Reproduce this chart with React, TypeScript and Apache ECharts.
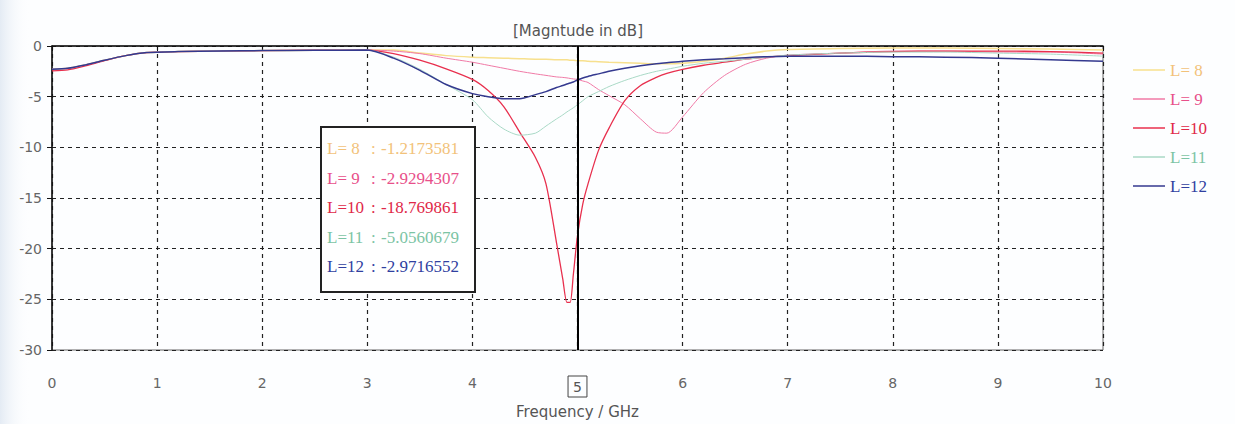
import React, { useEffect, useRef } from "react";
import * as echarts from "echarts";

const freq = [0, 0.15, 0.3, 0.5, 0.7, 0.9, 1.2, 1.6, 2.0, 2.5, 3.0, 3.25, 3.5, 3.75, 4.0, 4.15, 4.3, 4.45, 4.6, 4.7, 4.8, 4.86, 4.9, 4.93, 4.96, 5.0, 5.05, 5.1, 5.2, 5.3, 5.45, 5.6, 5.75, 5.85, 6.0, 6.2, 6.4, 6.6, 6.8, 7.0, 7.5, 8.0, 8.5, 9.0, 9.5, 10.0];

const startCommon = [-2.3, -2.2, -1.9, -1.4, -0.95, -0.65, -0.55, -0.5, -0.45, -0.42, -0.4];

const l8 = [...startCommon, -0.4, -0.7, -0.95, -1.1, -1.15, -1.2, -1.25, -1.3, -1.3, -1.35, -1.35, -1.35, -1.4, -1.4, -1.45, -1.45, -1.5, -1.55, -1.6, -1.65, -1.7, -1.75, -1.75, -1.7, -1.5, -1.2, -0.8, -0.5, -0.35, -0.25, -0.2, -0.2, -0.25, -0.3, -0.4];
const l9 = [...startCommon, -0.5, -0.75, -1.2, -1.6, -1.9, -2.2, -2.5, -2.75, -2.9, -3.05, -3.1, -3.15, -3.2, -3.25, -3.3, -3.45, -3.6, -4.3, -4.9, -5.8, -7.2, -8.5, -8.6, -7.0, -4.6, -2.9, -1.8, -1.2, -0.9, -0.7, -0.5, -0.5, -0.6, -0.6, -0.8];
const l10 = [-2.45, -2.35, -2.0, -1.45, -0.95, -0.65, -0.55, -0.5, -0.45, -0.42, -0.4, -0.75, -1.4, -2.25, -3.3, -4.4, -6.0, -8.5, -11.0, -13.6, -19.4, -23.0, -25.3, -25.3, -22.6, -18.7, -15.6, -13.6, -10.3, -8.1, -5.4, -3.9, -3.1, -2.7, -2.3, -1.9, -1.6, -1.3, -1.1, -0.95, -0.7, -0.55, -0.5, -0.5, -0.55, -0.7];
const l11 = [...startCommon, -1.1, -2.3, -3.8, -5.3, -7.0, -8.2, -8.8, -8.6, -7.9, -7.2, -6.8, -6.5, -6.3, -6.1, -5.8, -5.4, -5.0, -4.5, -4.0, -3.4, -2.9, -2.5, -2.3, -2.0, -1.7, -1.5, -1.3, -1.1, -0.9, -0.7, -0.6, -0.6, -0.7, -0.8, -1.0];
const l12 = [...startCommon, -1.2, -2.4, -3.8, -4.7, -5.0, -5.2, -5.2, -4.8, -4.5, -4.1, -3.9, -3.75, -3.65, -3.55, -3.35, -3.15, -3.0, -2.75, -2.5, -2.2, -1.95, -1.75, -1.65, -1.5, -1.35, -1.25, -1.15, -1.05, -1.0, -1.0, -1.05, -1.1, -1.2, -1.35, -1.5];

const seriesNames = ["L= 8", "L= 9", "L=10", "L=11", "L=12"];
const seriesData = [l8, l9, l10, l11, l12];
const lineColors = ["#f7e08e", "#f07aa6", "#e8304e", "#a9d9c6", "#34398f"];
const textColors = ["#f2c27a", "#e8508a", "#e02848", "#7cc4a4", "#3040a0"];
const lineWidths = [1.5, 1, 1.3, 1, 1.5];
const cursorValues = ["-1.2173581", "-2.9294307", "-18.769861", "-5.0560679", "-2.9716552"];
const cursorX = 5;
const xTicks = [0, 1, 2, 3, 4, 5, 6, 7, 8, 9, 10];

export default function App() {
  const ref = useRef<HTMLDivElement>(null);
  useEffect(() => {
    document.body.style.margin = "0";
    const chart = echarts.init(ref.current!, undefined, { renderer: "svg" });
    const axisFont = "DejaVu Sans";
    const serif = "Liberation Serif";
    const series: any[] = seriesNames.map((name, i) => ({
      name,
      type: "line",
      symbol: "none",
      smooth: 0.25,
      data: freq.map((f, k) => [f, seriesData[i][k]]),
      lineStyle: { color: lineColors[i], width: lineWidths[i] },
      itemStyle: { color: lineColors[i] },
      z: 3 + i,
    }));
    series[4].markLine = {
      silent: true,
      symbol: "none",
      label: { show: false },
      lineStyle: { color: "#000", width: 2, type: "solid" },
      data: [{ xAxis: cursorX }],
      z: 10,
    };
    const boxLeft = 321;
    const boxTop = 127;
    const rowY = [148, 178, 207, 237, 266];
    const graphics: any[] = [
      {
        type: "rect",
        shape: { x: 0, y: 0, width: 30, height: 424 },
        style: {
          fill: new echarts.graphic.LinearGradient(0, 0, 1, 0, [
            { offset: 0, color: "#e4ebf4" },
            { offset: 1, color: "rgba(253,254,255,0)" },
          ]),
        },
        z: -10,
        silent: true,
      },
      {
        type: "text",
        style: { x: 578, y: 31, text: "[Magntude in dB]", fill: "#555", font: `15px "${axisFont}"`, align: "center", verticalAlign: "middle" },
      },
      {
        type: "rect",
        z: 100,
        shape: { x: boxLeft, y: boxTop, width: 154, height: 165 },
        style: { fill: "#ffffff", stroke: "#222", lineWidth: 2 },
      },
    ];
    seriesNames.forEach((n, i) => {
      const f = `17px "${serif}"`;
      graphics.push({ type: "text", z: 101, style: { x: 327, y: rowY[i], text: n, fill: textColors[i], font: f, verticalAlign: "middle" } });
      graphics.push({ type: "text", z: 101, style: { x: 371, y: rowY[i], text: ":", fill: textColors[i], font: f, verticalAlign: "middle" } });
      graphics.push({ type: "text", z: 101, style: { x: 381, y: rowY[i], text: cursorValues[i], fill: textColors[i], font: f, verticalAlign: "middle" } });
    });

    chart.setOption({
      animation: false,
      backgroundColor: "#fdfeff",
      grid: { left: 52, top: 46, width: 1051, height: 311, show: true, borderColor: "#666", borderWidth: 1, backgroundColor: "transparent" },
      xAxis: {
        type: "value",
        min: 0,
        max: 10,
        interval: 1,
        name: "Frequency / GHz",
        nameLocation: "middle",
        nameGap: 54,
        nameTextStyle: { color: "#555", fontSize: 15, fontFamily: axisFont },
        axisLine: { lineStyle: { color: "#111", width: 1.5 } },
        axisTick: { show: true, length: 5, lineStyle: { color: "#111" } },
        axisLabel: {
          margin: 26,
          color: "#666",
          fontSize: 14,
          fontFamily: axisFont,
          formatter: (v: number) => (v === cursorX ? `{box|${v}}` : xTicks.includes(v) ? `${v}` : ""),
          rich: {
            box: { color: "#555", fontSize: 14, fontFamily: axisFont, borderColor: "#444", borderWidth: 1, padding: [4, 5, 3, 5] },
          },
        },
        splitLine: { show: true, lineStyle: { color: "#222", type: [4, 4], width: 1.2 } },
      },
      yAxis: {
        type: "value",
        min: -30,
        max: 0,
        interval: 5,
        axisLine: { show: true, lineStyle: { color: "#111", width: 1.5 } },
        axisTick: { show: true, length: 5, lineStyle: { color: "#111" } },
        axisLabel: { margin: 10, color: "#666", fontSize: 14, fontFamily: axisFont },
        splitLine: { show: true, lineStyle: { color: "#222", type: [4, 4], width: 1.2 } },
      },
      legend: {
        orient: "vertical",
        left: 1128,
        top: 56,
        icon: "rect",
        itemWidth: 32,
        itemHeight: 1.5,
        itemGap: 11,
        data: seriesNames.map((n, i) => ({ name: n, textStyle: { color: textColors[i] } })),
        textStyle: { fontFamily: serif, fontSize: 17, lineHeight: 18 },
      },
      series,
      graphic: graphics,
    });
    return () => chart.dispose();
  }, []);
  return <div ref={ref} style={{ width: 1235, height: 424 }} />;
}
